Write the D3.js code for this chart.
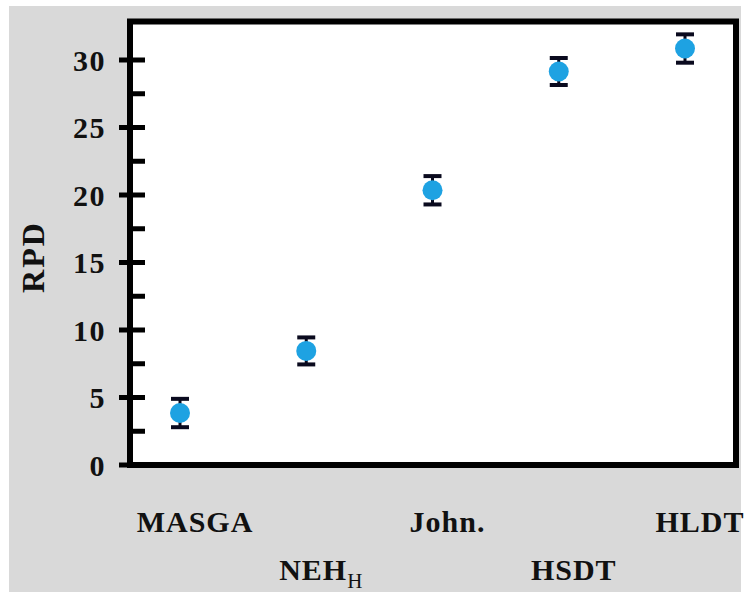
<!DOCTYPE html>
<html>
<head>
<meta charset="utf-8">
<script src="https://cdn.jsdelivr.net/npm/d3@7"></script>
<style>
  body { margin: 0; background: #fff; }
  text { font-family: "Times New Roman", "Liberation Serif", Times, serif; font-weight: bold; fill: #111; }
</style>
</head>
<body>
<svg id="chart" width="746" height="592"></svg>
<script>
const categories = ["MASGA", "NEH", "John.", "HSDT", "HLDT"];
const subscripts = ["", "H", "", "", ""];
const rpd = [3.85, 8.45, 20.35, 29.15, 30.85];
const errors = [1.05, 1.0, 1.05, 1.0, 1.05];
const yTicks = [0, 5, 10, 15, 20, 25, 30];
const yMinorTicks = [2.5, 7.5, 12.5, 17.5, 22.5, 27.5];

const svg = d3.select('#chart');

const plotLeft = 130, plotRight = 736, plotTop = 21.5, plotBottom = 465;

const x = d3.scalePoint()
    .domain(categories)
    .range([180, 685]);

const y = d3.scaleLinear()
    .domain([0, 30])
    .range([plotBottom, 60]);

// grey backdrop
svg.append('rect')
    .attr('x', 9).attr('y', 6)
    .attr('width', 732).attr('height', 586)
    .attr('fill', '#d9d9d9');

// white plot area
svg.append('rect')
    .attr('x', plotLeft).attr('y', plotTop)
    .attr('width', plotRight - plotLeft).attr('height', plotBottom - plotTop)
    .attr('fill', '#fff');

// frame
svg.append('rect')
    .attr('x', plotLeft).attr('y', plotTop)
    .attr('width', plotRight - plotLeft).attr('height', plotBottom - plotTop)
    .attr('fill', 'none')
    .attr('stroke', '#000')
    .attr('stroke-width', 6);

// major ticks cross the axis, minor ticks point inward
svg.selectAll('.major')
    .data(yTicks)
    .enter().append('line')
    .attr('class', 'major')
    .attr('x1', plotLeft - 11).attr('x2', plotLeft + 15)
    .attr('y1', d => y(d)).attr('y2', d => y(d))
    .attr('stroke', '#000')
    .attr('stroke-width', 5);

svg.selectAll('.minor')
    .data(yMinorTicks)
    .enter().append('line')
    .attr('class', 'minor')
    .attr('x1', plotLeft).attr('x2', plotLeft + 15)
    .attr('y1', d => y(d)).attr('y2', d => y(d))
    .attr('stroke', '#000')
    .attr('stroke-width', 5);

svg.selectAll('.ylab')
    .data(yTicks)
    .enter().append('text')
    .attr('class', 'ylab')
    .attr('x', 106)
    .attr('y', d => y(d))
    .attr('dy', '0.35em')
    .attr('text-anchor', 'end')
    .style('font-size', '30px')
    .style('letter-spacing', '1.5px')
    .text(d => d);

svg.append('text')
    .attr('transform', 'translate(44,257) rotate(-90)')
    .attr('text-anchor', 'middle')
    .style('font-size', '32px')
    .style('letter-spacing', '2px')
    .text('RPD');

// error bars
const bars = svg.selectAll('.err')
    .data(categories)
    .enter().append('g')
    .attr('class', 'err');

bars.append('line')
    .attr('x1', d => x(d)).attr('x2', d => x(d))
    .attr('y1', (d, i) => y(rpd[i] + errors[i]))
    .attr('y2', (d, i) => y(rpd[i] - errors[i]))
    .attr('stroke', '#0a0a1e')
    .attr('stroke-width', 3);

[1, -1].forEach(s => {
    bars.append('line')
        .attr('x1', d => x(d) - 9).attr('x2', d => x(d) + 9)
        .attr('y1', (d, i) => y(rpd[i] + s * errors[i]))
        .attr('y2', (d, i) => y(rpd[i] + s * errors[i]))
        .attr('stroke', '#0a0a1e')
        .attr('stroke-width', 4);
});

svg.selectAll('.dot')
    .data(categories)
    .enter().append('circle')
    .attr('class', 'dot')
    .attr('cx', d => x(d))
    .attr('cy', (d, i) => y(rpd[i]))
    .attr('r', 10)
    .attr('fill', '#1ea2e2');

// category labels, staggered on two rows
const labels = svg.selectAll('.xlab')
    .data(categories)
    .enter().append('text')
    .attr('class', 'xlab')
    .attr('x', d => x(d) + 15)
    .attr('y', (d, i) => i % 2 === 0 ? 532 : 580)
    .attr('text-anchor', 'middle')
    .style('font-size', '30px')
    .style('letter-spacing', '1px');

labels.append('tspan').text(d => d);
labels.append('tspan')
    .attr('dy', 8)
    .style('font-size', '21px')
    .style('font-weight', 'normal')
    .text((d, i) => subscripts[i]);
</script>
</body>
</html>
